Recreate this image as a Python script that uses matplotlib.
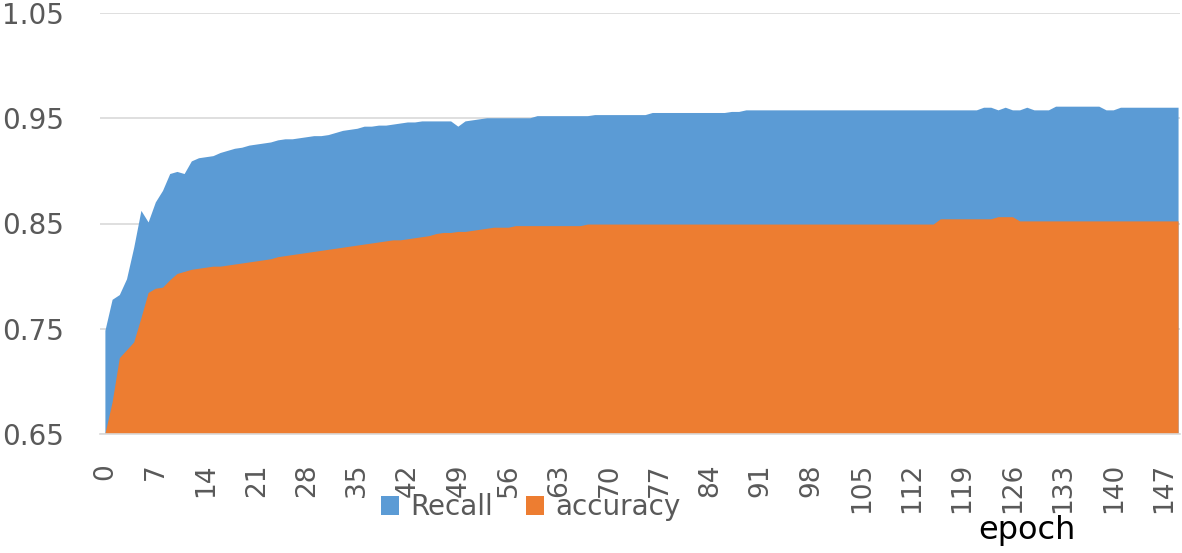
import matplotlib
matplotlib.use("Agg")
import matplotlib.pyplot as plt
import numpy as np

# ---- data ----
epochs = list(range(150))

recall_head = [
    0.748, 0.7775, 0.782, 0.797, 0.827, 0.862, 0.851, 0.870, 0.881, 0.897,
    0.899, 0.897, 0.909, 0.912, 0.913, 0.914, 0.917, 0.919, 0.921, 0.922,
    0.924, 0.925, 0.926, 0.927, 0.929, 0.930, 0.930, 0.931, 0.932, 0.933,
    0.933, 0.934, 0.936, 0.938, 0.939, 0.940, 0.942, 0.942, 0.943, 0.943,
    0.944, 0.945, 0.946, 0.946, 0.947, 0.947, 0.947, 0.947, 0.947, 0.942,
    0.947, 0.948, 0.949, 0.950, 0.950, 0.950, 0.950, 0.950, 0.950, 0.950,
]
recall_tail = (
    [0.952] * 8 +          # 60-67
    [0.953] * 8 +          # 68-75
    [0.955] * 11 +         # 76-86
    [0.956] * 2 +          # 87-88
    [0.9575] * 33 +        # 89-121
    [0.960, 0.960, 0.9575, 0.960, 0.9575, 0.9575, 0.960,   # 122-128
     0.9575, 0.9575, 0.9575] +                             # 129-131
    [0.961] * 7 +          # 132-138
    [0.9575] * 2 +         # 139-140
    [0.960] * 9            # 141-149
)
recall = recall_head + recall_tail

accuracy_head = [
    0.650, 0.680, 0.722, 0.7295, 0.737, 0.760, 0.784, 0.788, 0.789, 0.796,
    0.802, 0.804, 0.806, 0.807, 0.808, 0.809, 0.809, 0.810, 0.811, 0.812,
    0.813, 0.814, 0.815, 0.816, 0.818, 0.819, 0.820, 0.821, 0.822, 0.823,
    0.824, 0.825, 0.826, 0.827, 0.828, 0.829, 0.830, 0.831, 0.832, 0.833,
    0.834, 0.834, 0.835, 0.836, 0.837, 0.838, 0.840, 0.841, 0.841, 0.842,
    0.842, 0.843, 0.844, 0.845, 0.846, 0.846, 0.846,
]
accuracy_tail = (
    [0.8475] * 10 +        # 57-66
    [0.849] * 49 +         # 67-115
    [0.854] * 8 +          # 116-123
    [0.856] * 3 +          # 124-126
    [0.852] * 23           # 127-149
)
accuracy = accuracy_head + accuracy_tail

xtick_values = list(range(0, 148, 7))
ytick_values = [0.65, 0.75, 0.85, 0.95, 1.05]
ytick_labels = ["0.65", "0.75", "0.85", "0.95", "1.05"]
series_names = ["Recall", "accuracy"]

# ---- drawing ----
BLUE = "#5B9BD5"
ORANGE = "#ED7D31"
GRID = "#D9D9D9"
TXT = "#595959"

plt.rcParams["font.family"] = ["DejaVu Sans"]

fig = plt.figure(figsize=(11.82, 5.53), dpi=100)
ax = fig.add_axes([100 / 1182, 119 / 553, 1080 / 1182, 421 / 553])

ax.fill_between(epochs, recall, 0, color=BLUE, linewidth=0, label=series_names[0], zorder=2)
ax.fill_between(epochs, accuracy, 0, color=ORANGE, linewidth=0, label=series_names[1], zorder=3)

ax.set_xlim(-0.75, 149.2)
ax.set_ylim(0.65, 1.05)

ax.set_yticks(ytick_values)
ax.set_yticklabels(ytick_labels)
ax.set_xticks(xtick_values)
ax.set_xticklabels([str(v) for v in xtick_values], rotation=90)

ax.grid(axis="y", color=GRID, linewidth=1.2, zorder=1)
ax.set_axisbelow(True)
for s in ["left", "right", "top"]:
    ax.spines[s].set_visible(False)
ax.spines["bottom"].set_color(GRID)
ax.spines["bottom"].set_linewidth(1.2)
ax.spines["bottom"].set_zorder(4)

ax.tick_params(axis="y", length=0, pad=26, labelsize=20, labelcolor=TXT)
ax.tick_params(axis="x", length=0, pad=21, labelsize=19, labelcolor=TXT)

leg = fig.legend(loc="center", bbox_to_anchor=(530.5 / 1182, 1 - 507 / 553),
                 ncol=2, frameon=False, fontsize=20, handlelength=0.65,
                 handleheight=0.65, handletextpad=0.4, columnspacing=1.2,
                 borderpad=0, borderaxespad=0)
for t in leg.get_texts():
    t.set_color(TXT)

fig.text(1027 / 1182, 1 - 531 / 553, "epoch", ha="center", va="center",
         fontsize=23, color="black")

fig.savefig("out.png", dpi=100)
